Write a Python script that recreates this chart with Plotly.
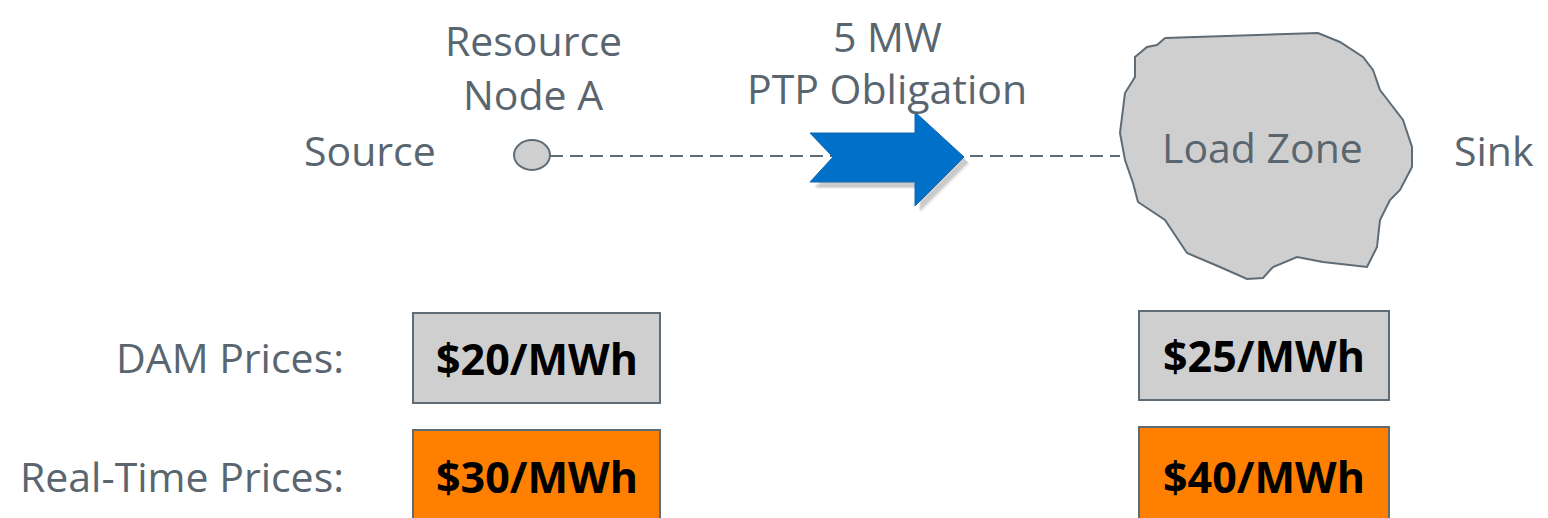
import plotly.graph_objects as go

W, H = 1548, 518
OFF = 8  # default page body margin
TEXT_GRAY = "#59656F"
EDGE = "#5F6B75"
FILL_GRAY = "#CFCFCF"
ORANGE = "#FF8000"
BLUE = "#0070C8"
FONT = "Open Sans"

# Labels / values
node_label_lines = ["Resource", "Node A"]
zone_label = "Load Zone"
end_labels = ["Source", "Sink"]
flow_label_lines = ["5 MW", "PTP Obligation"]
row_labels = ["DAM Prices:", "Real-Time Prices:"]
dam_prices = [20, 25]
rt_prices = [30, 40]

# Geometry (pixel space)
node_center = (532, 155)
node_r = (18, 15)
line_y = 156
line_x = [550, 1120]
arrow_x = [810, 915, 915, 964, 915, 915, 810, 833, 810]
arrow_y = [133, 133, 112, 157, 206, 182, 182, 157, 133]
blob_x = [1165, 1318, 1340, 1363, 1373, 1380, 1390, 1403, 1412, 1412, 1400, 1390, 1380,
          1377, 1367, 1323, 1297, 1273, 1263, 1247, 1220, 1187, 1165, 1138, 1133, 1125,
          1120, 1125, 1135, 1135, 1147, 1157, 1165]
blob_y = [38, 33, 42, 57, 70, 90, 103, 120, 147, 167, 190, 200, 220, 247, 267, 262, 257,
          267, 278, 279, 267, 253, 220, 202, 183, 160, 133, 93, 77, 57, 47, 45, 38]
box_x = [(413, 660), (1139, 1389)]
dam_y = [(313, 403), (311, 400)]
rt_y = [(430, 530), (427, 530)]

fig = go.Figure()

fig.add_trace(go.Scatter(x=line_x, y=[line_y, line_y], mode="lines",
                         line=dict(color=EDGE, width=2, dash="13px,7px"),
                         hoverinfo="skip", showlegend=False))
fig.add_trace(go.Scatter(x=blob_x, y=blob_y, mode="lines", fill="toself",
                         fillcolor=FILL_GRAY, line=dict(color=EDGE, width=2),
                         hoverinfo="skip", showlegend=False))
for dx, dy, a in [(6, 7, 0.05), (5, 6, 0.07), (4, 5, 0.09)]:
    fig.add_trace(go.Scatter(x=[v + dx for v in arrow_x], y=[v + dy for v in arrow_y],
                             mode="lines", fill="toself", fillcolor=f"rgba(0,0,0,{a})",
                             line=dict(color="rgba(0,0,0,0)", width=0),
                             hoverinfo="skip", showlegend=False))
fig.add_trace(go.Scatter(x=arrow_x, y=arrow_y, mode="lines", fill="toself",
                         fillcolor=BLUE, line=dict(color="#1565AE", width=1),
                         hoverinfo="skip", showlegend=False))

shapes = []
cx, cy = node_center
rx, ry = node_r
shapes.append(dict(type="circle", xref="x", yref="y", x0=cx - rx, x1=cx + rx,
                   y0=cy - ry, y1=cy + ry, fillcolor=FILL_GRAY,
                   line=dict(color=EDGE, width=2)))
for (x0, x1), (y0, y1) in zip(box_x, dam_y):
    shapes.append(dict(type="rect", xref="x", yref="y", x0=x0, x1=x1, y0=y0, y1=y1,
                       fillcolor=FILL_GRAY, line=dict(color=EDGE, width=2)))
for (x0, x1), (y0, y1) in zip(box_x, rt_y):
    shapes.append(dict(type="rect", xref="x", yref="y", x0=x0, x1=x1, y0=y0, y1=y1,
                       fillcolor=ORANGE, line=dict(color=EDGE, width=2)))

ann = []
def txt(x, y, t, size=41, color=TEXT_GRAY, bold=False, xanchor="center"):
    ann.append(dict(x=x, y=y, xref="x", yref="y", text=(f"<b>{t}</b>" if bold else t),
                    showarrow=False, xanchor=xanchor, yanchor="middle", borderpad=0,
                    font=dict(family=FONT, size=size, color=color)))

txt(533, 40, node_label_lines[0])
txt(533, 94, node_label_lines[1])
txt(887, 36, flow_label_lines[0])
txt(887, 88, flow_label_lines[1])
txt(1262, 147, zone_label)
txt(370, 150, end_labels[0])
txt(1494, 150, end_labels[1])
txt(345, 357, row_labels[0], xanchor="right")
txt(345, 476, row_labels[1], xanchor="right")
for (x0, x1), (y0, y1), p in zip(box_x, dam_y, dam_prices):
    txt((x0 + x1) / 2, (y0 + y1) / 2, f"${p}/MWh", size=43, color="#000000", bold=True)
for (x0, x1), (y0, y1), p in zip(box_x, rt_y, rt_prices):
    txt((x0 + x1) / 2, 476, f"${p}/MWh", size=43, color="#000000", bold=True)

fig.update_layout(width=W, height=H, margin=dict(l=0, r=0, t=0, b=0),
                  paper_bgcolor="white", plot_bgcolor="white",
                  shapes=shapes, annotations=ann, showlegend=False,
                  xaxis=dict(range=[OFF, W + OFF], visible=False, fixedrange=True),
                  yaxis=dict(range=[H + OFF, OFF], visible=False, fixedrange=True))
fig.write_html("out.html")
